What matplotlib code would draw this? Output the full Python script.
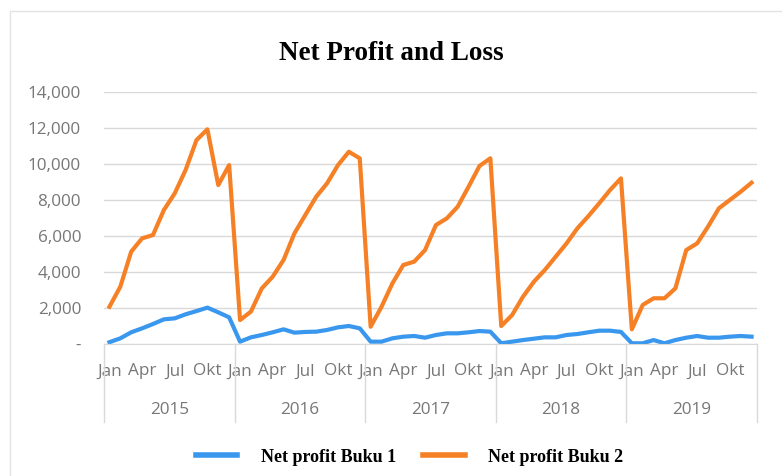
import numpy as np
import matplotlib
matplotlib.use("Agg")
import matplotlib.pyplot as plt
from matplotlib.patches import Rectangle
from matplotlib.transforms import blended_transform_factory

# data (monthly, Jan 2015 - Des 2019)
years = ['2015', '2016', '2017', '2018', '2019']
months_shown = ['Jan', 'Apr', 'Jul', 'Okt']
buku1 = [100, 315, 650, 870, 1110, 1370, 1425, 1650, 1830, 2020, 1760, 1480,
         130, 370, 500, 650, 815, 630, 670, 685, 780, 925, 1000, 870,
         130, 130, 315, 407, 445, 350, 500, 593, 593, 650, 720, 685,
         40, 130, 220, 295, 370, 370, 500, 555, 650, 740, 740, 670,
         40, 40, 220, 40, 220, 350, 445, 350, 350, 407, 445, 407]
buku2 = [2070, 3185, 5130, 5870, 6055, 7440, 8370, 9670, 11330, 11925, 8830, 9940,
         1330, 1800, 3090, 3740, 4670, 6150, 7170, 8185, 8930, 9940, 10680, 10315,
         960, 2070, 3370, 4390, 4575, 5220, 6610, 6980, 7630, 8740, 9890, 10315,
         1000, 1610, 2630, 3460, 4110, 4850, 5590, 6430, 7100, 7815, 8555, 9200,
         815, 2170, 2540, 2540, 3090, 5220, 5590, 6520, 7540, 8000, 8460, 8960]

blue = '#3a97ee'
orange = '#f58025'
grey_txt = '#777777'
grid_c = '#d9d9d9'

fig = plt.figure(figsize=(7.82, 4.76), dpi=100)
ax = fig.add_axes([104 / 782, 1 - 344 / 476, 653 / 782, 252 / 476])

x = np.arange(len(buku1))
l1, = ax.plot(x, buku1, color=blue, lw=3, solid_joinstyle='round', label='Net profit Buku 1')
l2, = ax.plot(x, buku2, color=orange, lw=3, solid_joinstyle='round', label='Net profit Buku 2')

ax.set_xlim(-0.5, len(buku1) - 0.5)
ax.set_ylim(0, 14000)
ax.set_yticks(np.arange(0, 14001, 2000))
ax.set_yticklabels(['-'] + ['{:,}'.format(v) for v in range(2000, 14001, 2000)])
ax.grid(axis='y', color=grid_c, lw=1)
ax.set_axisbelow(True)
for s in ['left', 'right', 'top']:
    ax.spines[s].set_visible(False)
ax.spines['bottom'].set_color(grid_c)

# month ticks: Jan Apr Jul Okt of every year
ticks = [12 * i + 3 * j for i in range(len(years)) for j in range(4)]
ax.set_xticks(ticks)
ax.set_xticklabels(months_shown * len(years))
ax.tick_params(axis='both', length=0, labelcolor=grey_txt, labelsize=12.3)
ax.tick_params(axis='x', pad=14)
ax.tick_params(axis='y', pad=16.5)
for t in ax.get_xticklabels() + ax.get_yticklabels():
    t.set_family('Open Sans')

# year level of the category axis
tr = blended_transform_factory(ax.transData, ax.transAxes)
for i, yr in enumerate(years):
    ax.text(12 * i + 5.5, -0.26, yr, transform=tr, ha='center', va='center',
            color=grey_txt, fontsize=12.3, family='Open Sans')
for i in range(len(years) + 1):
    ax.plot([12 * i - 0.5] * 2, [0, -0.308], transform=tr, color=grid_c, lw=1, clip_on=False)

fig.text(391.5 / 782, 1 - 54 / 476, 'Net Profit and Loss', ha='center', va='center',
         fontsize=19.5, fontweight='bold', family='Liberation Serif')

leg = fig.legend(handles=[l1, l2], loc='center', bbox_to_anchor=(409.5 / 782, 1 - 457 / 476),
                 ncol=2, frameon=False, handlelength=2.3, handletextpad=1.3,
                 columnspacing=1.5, prop={'family': 'Liberation Serif', 'weight': 'bold', 'size': 13})
for h in leg.get_lines():
    h.set_linewidth(4)

# faint outer border of the chart area
fig.add_artist(Rectangle((10 / 782, -0.1), 1.0, 1.1 - 11 / 476, transform=fig.transFigure,
                         fill=False, edgecolor='#e3e3e3', lw=1))

fig.savefig('out.png', dpi=100)
